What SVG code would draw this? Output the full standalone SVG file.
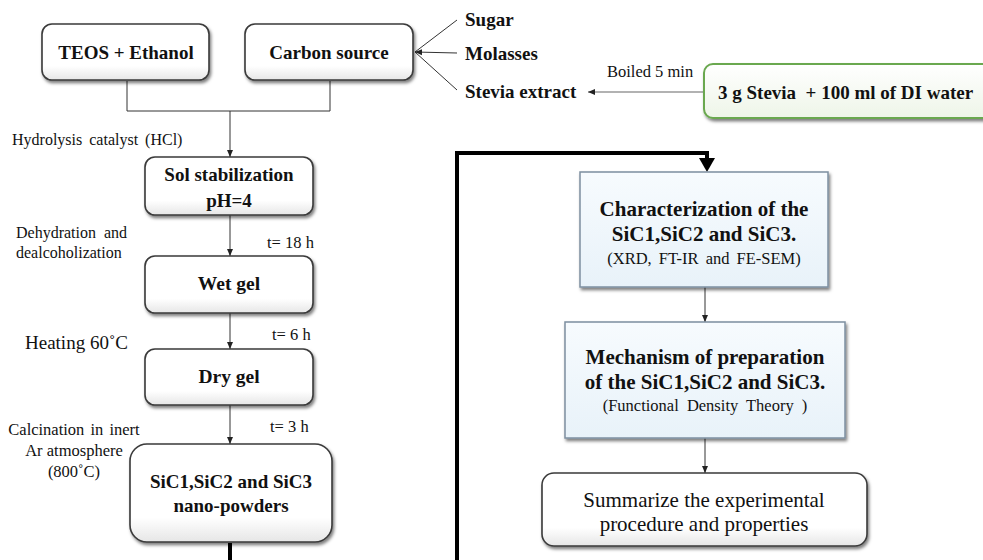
<svg xmlns="http://www.w3.org/2000/svg" width="983" height="560" viewBox="0 0 983 560">
<style>
text{font-family:"Liberation Serif","Times New Roman",serif;fill:#111}
.b{font-weight:bold}
.node{fill:url(#gw);stroke:#3a3a3a;stroke-width:1.6}
.blue{fill:url(#gb);stroke:#7d8fa0;stroke-width:1.5}
.green{fill:url(#gg);stroke:#6aa84f;stroke-width:2}
.thin{fill:none;stroke:#333;stroke-width:1}
.gray{fill:none;stroke:#666;stroke-width:1.2}
.thick{fill:none;stroke:#000;stroke-width:4}
</style>
<defs>
<linearGradient id="gw" x1="0" y1="0" x2="0" y2="1"><stop offset="0" stop-color="#fff"/><stop offset="0.75" stop-color="#fff"/><stop offset="1" stop-color="#e6e6e6"/></linearGradient>
<linearGradient id="gb" x1="0" y1="0" x2="0" y2="1"><stop offset="0" stop-color="#f7fbfe"/><stop offset="1" stop-color="#e8f2f9"/></linearGradient>
<linearGradient id="gg" x1="0" y1="0" x2="0" y2="1"><stop offset="0" stop-color="#fff"/><stop offset="1" stop-color="#eef5e8"/></linearGradient>
<filter id="sh" x="-10%" y="-10%" width="125%" height="135%"><feDropShadow dx="1.5" dy="2.5" stdDeviation="1.8" flood-color="#000" flood-opacity="0.5"/></filter>
<marker id="ar" markerWidth="8" markerHeight="8" refX="7" refY="4" orient="auto" markerUnits="userSpaceOnUse"><path d="M0,1 L7,4 L0,7 Z" fill="#222"/></marker>
</defs>

<g id="connectors">
<path class="thin" d="M127,81 V111 H330 V81"/>
<path class="thin" d="M230,111 V157" marker-end="url(#ar)"/>
<path class="thin" d="M230,215 V256" marker-end="url(#ar)"/>
<path class="thin" d="M230,313 V349" marker-end="url(#ar)"/>
<path class="thin" d="M230,405 V444" marker-end="url(#ar)"/>
<path class="thin" d="M457,20 L415,52"/>
<path class="thin" d="M457,53 L415,52" marker-end="url(#ar)"/>
<path class="thin" d="M457,90 L415,52"/>
<path class="gray" d="M704,92 H588" marker-end="url(#ar)"/>
<path class="thick" d="M230,543 V560"/>
<path class="thick" d="M457,560 V153 H707 V158"/>
<path d="M699,158 L715,158 L707,172 Z" fill="#000"/>
<path class="thin" d="M705,287 V322" marker-end="url(#ar)"/>
<path class="thin" d="M705,438 V473" marker-end="url(#ar)"/>
</g>

<g id="teos"><rect class="node" filter="url(#sh)" x="42" y="24" width="167" height="56" rx="10"/><text class="b" x="126" y="59" font-size="19" text-anchor="middle">TEOS + Ethanol</text></g>
<g id="carbon"><rect class="node" filter="url(#sh)" x="245" y="24" width="168" height="56" rx="10"/><text class="b" x="329" y="59" font-size="19" text-anchor="middle">Carbon source</text></g>
<g id="sugar"><text class="b" x="465" y="26" font-size="19">Sugar</text></g>
<g id="molasses"><text class="b" x="465" y="60" font-size="19">Molasses</text></g>
<g id="stevia-extract"><text class="b" x="465" y="98" font-size="19">Stevia extract</text></g>
<g id="stevia"><rect class="green" filter="url(#sh)" x="704" y="64" width="300" height="54" rx="9"/><text class="b" x="718" y="99" font-size="19" xml:space="preserve">3 g Stevia  + 100 ml of DI water</text></g>
<text x="607" y="77" font-size="16.5">Boiled 5 min</text>

<text x="12" y="145" font-size="16" word-spacing="3">Hydrolysis catalyst (HCl)</text>
<g id="sol"><rect class="node" filter="url(#sh)" x="145" y="157" width="168" height="58" rx="10"/><text class="b" x="229" y="181" font-size="19" text-anchor="middle">Sol stabilization</text><text class="b" x="229" y="207" font-size="19" text-anchor="middle">pH=4</text></g>
<text x="16" y="238" font-size="16" word-spacing="4">Dehydration and</text>
<text x="16" y="258" font-size="16">dealcoholization</text>
<text x="267" y="248" font-size="16.5">t= 18 h</text>
<g id="wetgel"><rect class="node" filter="url(#sh)" x="145" y="256" width="168" height="57" rx="10"/><text class="b" x="229" y="290" font-size="19.5" text-anchor="middle">Wet gel</text></g>
<text x="25" y="349" font-size="19">Heating 60˚C</text>
<text x="272" y="340" font-size="16.5">t= 6 h</text>
<g id="drygel"><rect class="node" filter="url(#sh)" x="145" y="349" width="168" height="56" rx="10"/><text class="b" x="229" y="383" font-size="19.5" text-anchor="middle">Dry gel</text></g>
<text x="74" y="435" font-size="16.5" text-anchor="middle" word-spacing="2">Calcination in inert</text>
<text x="74" y="456" font-size="16.5" text-anchor="middle">Ar atmosphere</text>
<text x="74" y="477" font-size="16.5" text-anchor="middle">(800˚C)</text>
<text x="270" y="432" font-size="16.5">t= 3 h</text>
<g id="sic"><rect class="node" filter="url(#sh)" x="130" y="444" width="202" height="98" rx="17"/><text class="b" x="231" y="488" font-size="19" text-anchor="middle">SiC1,SiC2 and SiC3</text><text class="b" x="231" y="512" font-size="19" text-anchor="middle">nano-powders</text></g>

<g id="characterization"><rect class="blue" filter="url(#sh)" x="580" y="172" width="248" height="115"/><text class="b" x="704" y="216" font-size="21" text-anchor="middle">Characterization of the</text><text class="b" x="704" y="241" font-size="21" text-anchor="middle">SiC1,SiC2 and SiC3.</text><text x="704" y="264" font-size="16.5" text-anchor="middle" word-spacing="3">(XRD, FT-IR and FE-SEM)</text></g>
<g id="mechanism"><rect class="blue" filter="url(#sh)" x="565" y="322" width="280" height="116"/><text class="b" x="705" y="364" font-size="21" text-anchor="middle">Mechanism of preparation</text><text class="b" x="705" y="389" font-size="21" text-anchor="middle">of the SiC1,SiC2 and SiC3.</text><text x="705" y="411" font-size="16.5" text-anchor="middle" word-spacing="4">(Functional Density Theory )</text></g>
<g id="summary"><rect class="node" filter="url(#sh)" x="542" y="473" width="325" height="73" rx="12"/><text x="704" y="507" font-size="21" text-anchor="middle">Summarize the experimental</text><text x="704" y="531" font-size="21" text-anchor="middle">procedure and properties</text></g>
</svg>
